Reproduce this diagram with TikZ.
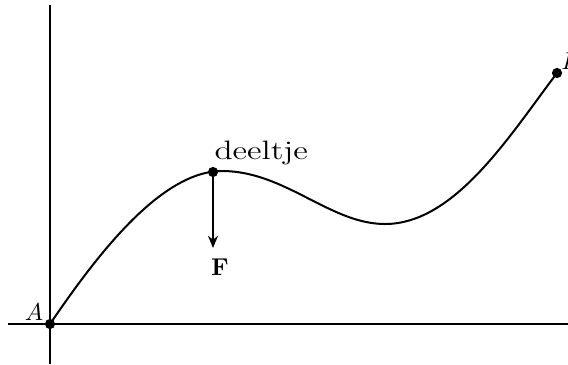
\documentclass[tikz,border=0pt]{standalone}
\usetikzlibrary{arrows.meta}
\begin{document}
\begin{tikzpicture}[x=0.45pt,y=-0.45pt,
  axis/.style={line width=0.6pt},
  curve/.style={line width=0.9pt},
  dot/.style={circle,fill=black,inner sep=0pt,minimum size=4.6pt},
  lbl/.style={inner sep=0pt,font=\fontsize{11}{13}\selectfont}]
\useasboundingbox (0,0) rectangle (568,364);
\coordinate (xl) at (8,324);
\coordinate (xr) at (568,324);
\coordinate (yb) at (50,364);
\coordinate (yt) at (50,5);
\draw[axis] (xl) -- (xr);
\draw[axis] (yb) -- (yt);
\node[dot] (A) at (50,324) {};
\node[dot] (B) at (557,73) {};
\node[dot] (P) at (213,172) {};
\draw[curve] (A.center) .. controls (95,258) and (160,171) .. (222,171)
  .. controls (285,171) and (330,224) .. (385,224)
  .. controls (455,224) and (510,135) .. (B.center);
\coordinate (Fend) at (213,248);
\draw[curve,-{Stealth[length=5.5pt,width=4.5pt]}] (P.center) -- (Fend);
\node[lbl] (la) at (34,312) {$A$};
\node[lbl,anchor=west] (lb) at (561,61) {$B$};
\node[lbl,anchor=south west,font=\fontsize{12}{14}\selectfont,xscale=1.25] (ld) at (214,165) {deeltje};
\node[lbl] (lf) at (220,267) {$\mathbf{F}$};
\end{tikzpicture}
\end{document}
